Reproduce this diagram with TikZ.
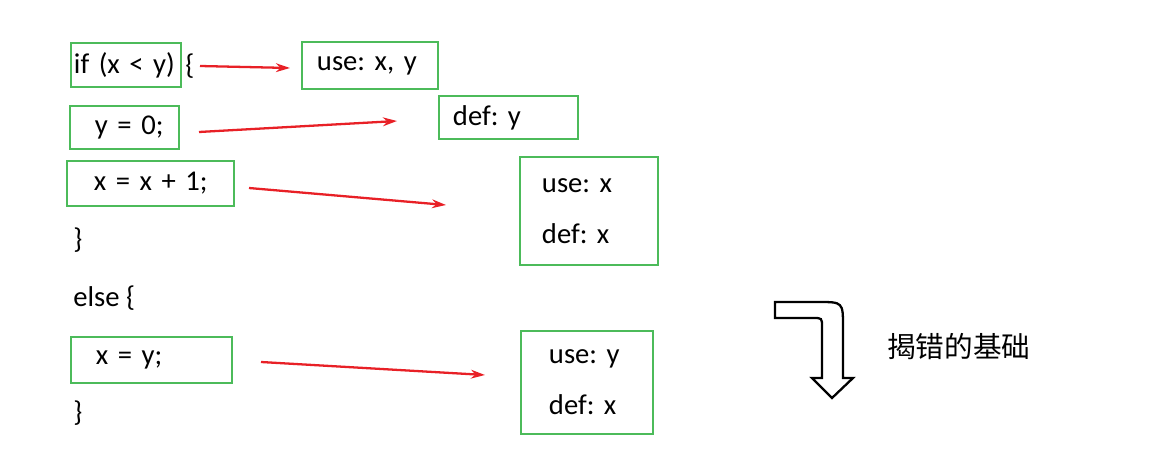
\documentclass[tikz,border=0pt]{standalone}
\usepackage{fontspec}
\setmainfont{Carlito}
\newfontfamily\cjk{Noto Sans CJK SC}
\usetikzlibrary{arrows.meta}
\definecolor{boxgreen}{RGB}{76,187,90}
\definecolor{arrred}{RGB}{232,32,38}
\frenchspacing
\tikzset{
  codebox/.style={draw=boxgreen, line width=1.1pt, anchor=west, align=left},
  codetext/.style={anchor=west, inner xsep=0pt},
  flow/.style={draw=arrred, line width=1.3pt, -{Stealth[length=8pt,width=5pt]}},
}

\begin{document}
\begin{tikzpicture}[x=0.02cm, y=-0.02cm, font=\fontsize{16.3}{19}\selectfont]
	\useasboundingbox (0,0) rectangle (1157,473);
	% code lines
	\node [codebox, inner xsep=0.06cm, text width=2.08cm, minimum height=0.88cm] (ifc) at (70,65) {\mbox{if (x < y)}};
	\node [codetext] (ifbrace) at (185,66) {\{};
	\node [codebox, inner xsep=0.5cm, text width=1.18cm, minimum height=0.86cm] (yzero) at (69,127.5) {\mbox{y = 0;}};
	\node [codebox, inner xsep=0.54cm, text width=2.26cm, minimum height=0.9cm] (xinc) at (66,183.5) {\mbox{x = x + 1;}};
	\node [codetext] (ifend) at (73,240) {\}};
	\node [codetext] (elsec) at (73,298) {else \{};
	\node [codebox, inner xsep=0.5cm, text width=2.22cm, minimum height=0.92cm] (xy) at (70,360) {\mbox{x = y;}};
	\node [codetext] (elseend) at (73,413) {\}};
	% use / def boxes
	\node [codebox, inner xsep=0.3cm, text width=2.12cm, minimum height=0.94cm] (useif) at (301,65.5) {\mbox{use: x, y}};
	\node [codebox, inner xsep=0.28cm, text width=2.22cm, minimum height=0.86cm] (defy) at (438,117.5) {\mbox{def: y}};
	\node [codebox, inner xsep=0.44cm, text width=1.88cm, minimum height=2.16cm] (usedefx) at (519,211) {\mbox{use: x}\\[0.35cm]\mbox{def: x}};
	\node [codebox, inner xsep=0.56cm, text width=1.52cm, minimum height=2.06cm] (usedefy) at (520,382.5) {\mbox{use: y}\\[0.35cm]\mbox{def: x}};
	% arrow ends
	\coordinate (a1s) at (200,66);
	\coordinate (a1e) at (290,68);
	\coordinate (a2s) at (199,132);
	\coordinate (a2e) at (397,121);
	\coordinate (a3s) at (249,188);
	\coordinate (a3e) at (446,205);
	\coordinate (a4s) at (261,362);
	\coordinate (a4e) at (485,375);
	\draw [flow] (a1s) -- (a1e);
	\draw [flow] (a2s) -- (a2e);
	\draw [flow] (a3s) -- (a3e);
	\draw [flow] (a4s) -- (a4e);
	% bent arrow
	\draw [line width=1.3pt, line join=miter] (775,302) -- (818,302) .. controls (843,302) .. (843,327) -- (843,378) -- (853,378) -- (832,398) -- (812,378) -- (822,378) -- (822,327) .. controls (822,318) .. (813,318) -- (775,318) -- cycle;
	\node [codetext] (basis) at (887,347) {\cjk 揭错的基础};
\end{tikzpicture}
\end{document}
